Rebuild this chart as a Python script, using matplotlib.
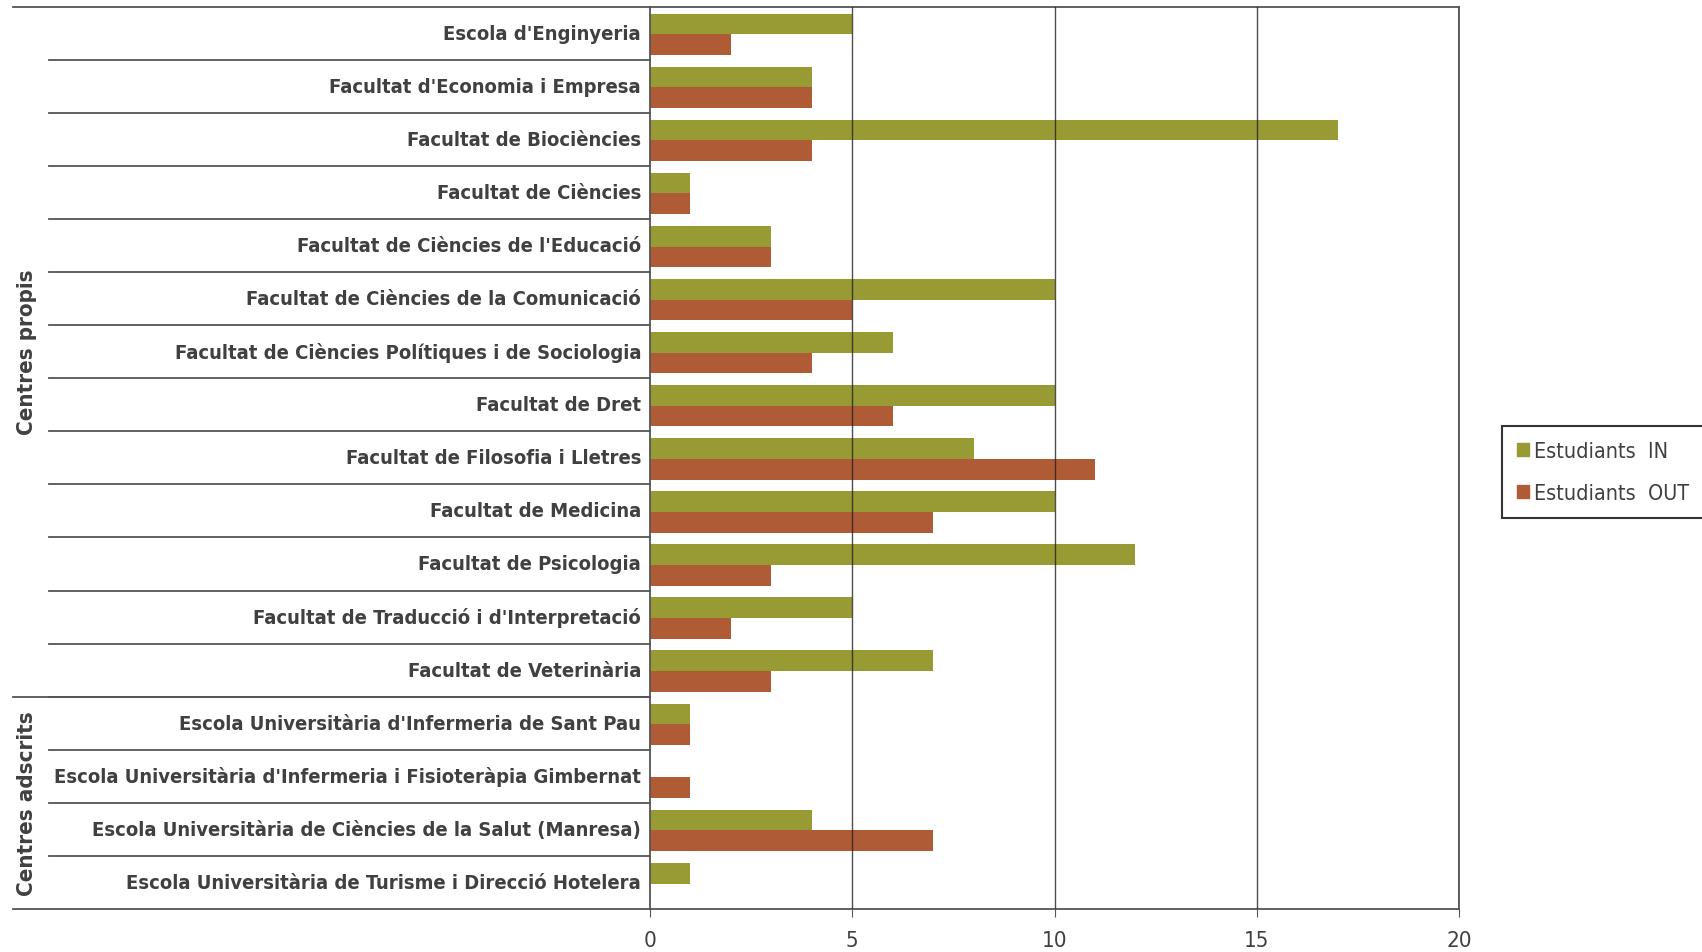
import numpy as np
import matplotlib
matplotlib.use('Agg')
import matplotlib.pyplot as plt
import matplotlib.transforms as mtransforms
from matplotlib.patches import Patch

# dades
centres = ["Escola d'Enginyeria",
           "Facultat d'Economia i Empresa",
           "Facultat de Biociències",
           "Facultat de Ciències",
           "Facultat de Ciències de l'Educació",
           "Facultat de Ciències de la Comunicació",
           "Facultat de Ciències Polítiques i de Sociologia",
           "Facultat de Dret",
           "Facultat de Filosofia i Lletres",
           "Facultat de Medicina",
           "Facultat de Psicologia",
           "Facultat de Traducció i d'Interpretació",
           "Facultat de Veterinària",
           "Escola Universitària d'Infermeria de Sant Pau",
           "Escola Universitària d'Infermeria i Fisioteràpia Gimbernat",
           "Escola Universitària de Ciències de la Salut (Manresa)",
           "Escola Universitària de Turisme i Direcció Hotelera"]
estudiants_in = [5, 4, 17, 1, 3, 10, 6, 10, 8, 10, 12, 5, 7, 1, 0, 4, 1]
estudiants_out = [2, 4, 4, 1, 3, 5, 4, 6, 11, 7, 3, 2, 3, 1, 1, 7, 0]
grups = ["Centres propis", "Centres adscrits"]
mida_grups = [13, 4]
x_ticks = [0, 5, 10, 15, 20]

col_in = '#989b34'
col_out = '#ae5b36'
gris = '#404040'
linia = '#555555'
cond = dict(family='DejaVu Sans', stretch='condensed')

fig = plt.figure(figsize=(17.02, 9.53), dpi=100)
ax = fig.add_axes([650/1702, 1-910/953, 809/1702, (910-7.6)/953])

n = len(centres)
y = np.arange(n)
h = 0.39
ax.barh(y - h/2 + 0.02, estudiants_in, height=h, color=col_in, zorder=2)
ax.barh(y + h/2 + 0.02, estudiants_out, height=h, color=col_out, zorder=2)

ax.set_xlim(0, 20)
ax.set_ylim(n - 0.5, -0.5)
ax.set_xticks(x_ticks)
ax.set_xticklabels([str(t) for t in x_ticks], fontsize=16, color=gris, **cond)
ax.tick_params(axis='x', length=6, color=linia, pad=9)
ax.set_yticks([])
for t in x_ticks[1:]:
    ax.axvline(t, color='#222222', lw=1.0, alpha=0.8, zorder=3)
for s in ax.spines.values():
    s.set_color(linia)
    s.set_linewidth(1.3)

# etiquetes de categoria i separadors
tr = mtransforms.blended_transform_factory(ax.transAxes, ax.transData)
x_cat = (49 - 650) / 809
x_grup = (13 - 650) / 809
for i, nom in enumerate(centres):
    ax.text(-0.011, i, nom, transform=tr, ha='right', va='center',
            fontsize=14.5, fontweight='bold', color=gris, **cond)
for b in np.arange(1, n) - 0.5:
    ax.plot([x_cat, 0], [b, b], transform=tr, color=linia, lw=1.3, clip_on=False)

inici = 0
for g, m in zip(grups, mida_grups):
    ax.plot([x_grup, 0], [inici - 0.5, inici - 0.5], transform=tr, color=linia, lw=1.3, clip_on=False)
    ax.text((27 - 650) / 809, inici + (m - 1) / 2, g, transform=tr, rotation=90,
            ha='center', va='center', fontsize=16, fontweight='bold', color=gris, **cond)
    inici += m
ax.plot([x_grup, 0], [n - 0.5, n - 0.5], transform=tr, color=linia, lw=1.3, clip_on=False)

# llegenda
handles = [Patch(color=col_in, label='Estudiants  IN'), Patch(color=col_out, label='Estudiants  OUT')]
leg = fig.legend(handles=handles, loc='center', bbox_to_anchor=(1603/1702, 1-473/953),
                 frameon=True, fancybox=False, handlelength=0.55, handleheight=0.55,
                 handletextpad=0.25, labelspacing=1.0, borderpad=0.7, labelcolor=gris,
                 prop=dict(size=15.5, **cond))
leg.get_frame().set_edgecolor('black')
leg.get_frame().set_linewidth(1.5)

fig.savefig('out.png', dpi=100)
